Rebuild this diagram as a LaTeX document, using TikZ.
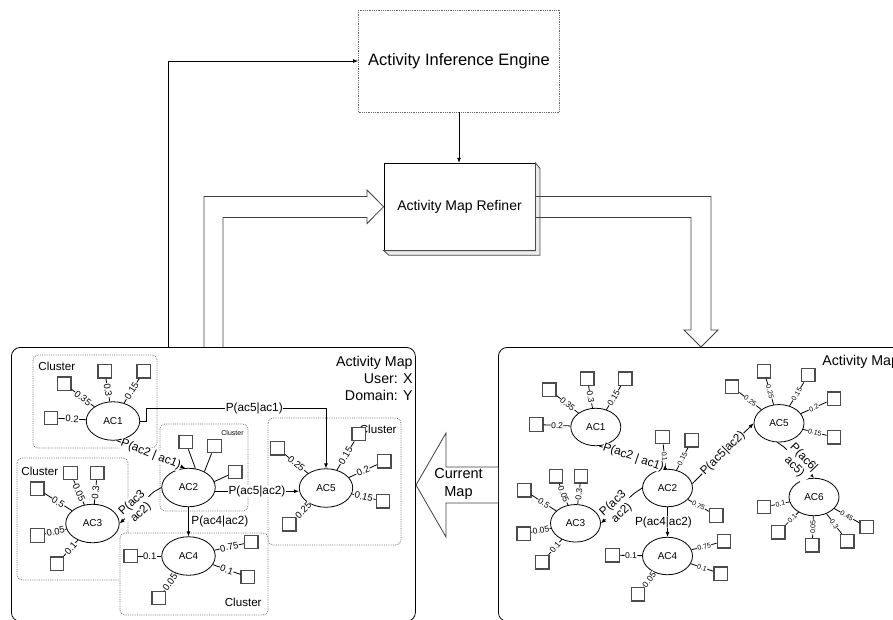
\documentclass[tikz,border=0pt]{standalone}
\usepackage{fontspec}
\setmainfont{Liberation Sans}
\usetikzlibrary{arrows.meta,shapes.geometric}
\begin{document}
\begin{tikzpicture}[x=1pt, y=-1pt, line width=0.8pt, >={Latex[length=5pt,width=4pt]},
	act/.style={ellipse, draw, fill=white, minimum width=53.5pt, minimum height=38.5pt, inner sep=0pt, font=\fontsize{10}{12}\selectfont},
	actr/.style={act, minimum width=50pt, minimum height=37.5pt},
	leaf/.style={draw=black!70, line width=1.2pt, fill=white, minimum size=13.5pt, inner sep=0pt},
	wt/.style={sloped, fill=white, inner sep=0.5pt, font=\fontsize{9.5}{10}\selectfont},
	wm/.style={wt, font=\fontsize{8.5}{9}\selectfont},
	ws/.style={wt, font=\fontsize{7}{8}\selectfont},
	prob/.style={fill=white, inner sep=0.5pt, font=\fontsize{11.8}{13}\selectfont},
	clus/.style={draw=black!55, densely dotted, fill=white, rounded corners=5pt},
	clab/.style={inner sep=0pt, font=\fontsize{11.6}{13}\selectfont},
	panel/.style={draw, rounded corners=9pt, inner sep=0pt},
	fat/.style={draw=black!75, line join=miter}
	]
	\useasboundingbox (0,0) rectangle (893,619);
	% the two maps
	\node[panel, anchor=north west, minimum width=404pt, minimum height=274pt] (mapL) at (11,347) {};
	\node[panel, anchor=north west, minimum width=420pt, minimum height=274pt] (mapR) at (498,347) {};
	\node[anchor=north east, align=right, inner sep=0pt, font=\fontsize{14.2}{17}\selectfont] (hdrL) at (413,356) {Activity Map\\User: X\\Domain: Y};
	\node[anchor=west, inner sep=0pt, font=\fontsize{14.2}{17}\selectfont] (hdrR) at (822,362) {Activity Map};
	% engine and refiner
	\node[draw=black!60, densely dotted, minimum width=201pt, minimum height=102pt, font=\fontsize{16.5}{19}\selectfont] (engine) at (459,61) {Activity Inference Engine};
	\node[draw, fill=white, minimum width=151pt, minimum height=87pt, font=\fontsize{14}{17}\selectfont] (refiner) at (459.5,206.7) {Activity Map Refiner};
	\draw[black!70, fill=black!8] (refiner.north east) -- ++(4.5,5.5) -- ++(0,87) -- ++(-151,0) -- (refiner.south west) -- (refiner.south east) -- cycle;
	\coordinate (fb) at (168,347);
	\draw[->] (fb) |- (engine.west);
	\draw[->] (engine.south) -- (engine.south |- refiner.north);
	\draw[fat] (204,347) -- (204,196.5) -- (367,196.5) -- (367,190) -- (refiner.west) -- (367,223.5) -- (367,217.5) -- (223,217.5) -- (223,347);
	\draw[fat] (535,196.5) -- (711,196.5) -- (711,330) -- (718,330) -- (701,347) -- (684,330) -- (691,330) -- (691,217.5) -- (535,217.5);
	\draw[fat, fill=white] (498,467) -- (446,467) -- (446,433) -- (416,485) -- (446,537) -- (446,503) -- (498,503);
	\node[align=center, inner sep=0pt, font=\fontsize{14.5}{18}\selectfont] (cur) at (458.5,484) {Current\\Map};
	% clusters
	\draw[clus] (33,355) rectangle (157,448);
	\draw[clus] (160,424) rectangle (248,511);
	\draw[clus] (268,418) rectangle (401,545);
	\draw[clus] (17,458) rectangle (128,580);
	\draw[clus] (120,533) rectangle (268,615);
	\node[clab, anchor=west] (cl1) at (38,366) {Cluster};
	\node[clab, anchor=east, font=\fontsize{7}{8}\selectfont] (cl2) at (244,433) {Cluster};
	\node[clab, anchor=east] (cl5) at (397,429.5) {Cluster};
	\node[clab, anchor=west] (cl3) at (21,471) {Cluster};
	\node[clab, anchor=east] (cl4) at (262,602) {Cluster};
	% left map
	\node[act] (L1) at (113,421) {AC1};
	\node[act] (L2) at (188.5,487.5) {AC2};
	\node[act] (L3) at (92.5,523.5) {AC3};
	\node[act] (L4) at (188.5,556) {AC4};
	\node[act] (L5) at (326,488) {AC5};
	\foreach \x/\y/\w [count=\i] in {51/418/0.2, 64.2/383.7/0.35, 104.7/371.3/0.3, 143.7/371.3/0.15}
	{\node[leaf] (L1-\i) at (\x,\y) {}; \draw (L1-\i) -- node[wt]{\w} (L1);}
	\foreach \x/\y/\a [count=\i] in {185.7/442/70, 214.5/446/45, 235.3/472/13}
	{\node[leaf] (L2-\i) at (\x,\y) {}; \draw (L2-\i) -- (L2.\a);}
	\foreach \x/\y/\w [count=\i] in {37.2/488.8/0.5, 70.5/473/0.05, 97.2/473/0.3, 37.5/535.5/0.05, 57/563.8/0.1}
	{\node[leaf] (L3-\i) at (\x,\y) {}; \draw (L3-\i) -- node[wt]{\w} (L3);}
	\foreach \x/\y/\w [count=\i] in {130.8/556/0.1, 251.3/542/0.75, 247.8/577/0.1, 158.7/598/0.05}
	{\node[leaf] (L4-\i) at (\x,\y) {}; \draw (L4-\i) -- node[wt]{\w} (L4);}
	\foreach \x/\y/\w [count=\i] in {277.5/448.3/0.25, 358.7/434/0.15, 384.3/461.3/0.2, 383/501.2/0.15, 289.3/524.2/0.25}
	{\node[leaf] (L5-\i) at (\x,\y) {}; \draw (L5-\i) -- node[wt]{\w} (L5);}
	\draw[->] (L1.east) -| (146.7,408) -| node[prob, pos=0.3]{P(ac5|ac1)} (L5.north);
	\draw[->] (L1.-80) -- node[prob, sloped]{P(ac2 | ac1)} (L2.100);
	\draw[->] (L2.west) -- (153.5,492) -- node[prob, sloped, align=center]{P(ac3\\ac2)} (L3.east);
	\draw[->] (L2.south) -- node[prob, right, xshift=2pt, fill=none]{P(ac4|ac2)} (L4.north);
	\draw[->] (L2.-8) -- node[prob]{P(ac5|ac2)} (L5.west |- L2.-8);
	% right map
	\node[actr] (R1) at (595.8,427) {AC1};
	\node[actr] (R2) at (667.5,488) {AC2};
	\node[actr] (R3) at (575.5,523.3) {AC3};
	\node[actr] (R4) at (667.5,556) {AC4};
	\node[actr] (R5) at (779,423.3) {AC5};
	\node[actr] (R6) at (814,497) {AC6};
	\foreach \x/\y/\w [count=\i] in {536.3/424.5/0.2, 549.3/389.7/0.35, 587.3/378.7/0.3, 625.3/378.7/0.15}
	{\node[leaf] (R1-\i) at (\x,\y) {}; \draw (R1-\i) -- node[wm]{\w} (R1);}
	\foreach \x/\y/\w [count=\i] in {662.5/437/0.1, 691.7/440.3/0.15, 716.3/515.5/0.75}
	{\node[leaf] (R2-\i) at (\x,\y) {}; \draw (R2-\i) -- node[ws]{\w} (R2);}
	\foreach \x/\y/\w [count=\i] in {524.2/490.3/0.5, 556/476.2/0.05, 581/476.2/0.3, 523.7/533.8/0.05, 542.3/562.2/0.1}
	{\node[leaf] (R3-\i) at (\x,\y) {}; \draw (R3-\i) -- node[wm]{\w} (R3);}
	\foreach \x/\y/\w [count=\i] in {612.5/555.2/0.1, 638/594.2/0.05}
	{\node[leaf] (R4-\i) at (\x,\y) {}; \draw (R4-\i) -- node[wm]{\w} (R4);}
	\foreach \x/\y/\w [count=\i] in {724/541.3/0.75, 720.7/573.7/0.1}
	{\node[leaf] (R4s-\i) at (\x,\y) {}; \draw (R4s-\i) -- node[ws]{\w} (R4);}
	\foreach \x/\y/\w [count=\i] in {732/386.7/0.25, 764/371.3/0.25, 808.3/375/0.15, 834/398.8/0.2, 834/437.2/0.15}
	{\node[leaf] (R5-\i) at (\x,\y) {}; \draw (R5-\i) -- node[ws]{\w} (R5);}
	\foreach \x/\y/\w [count=\i] in {764/507/0.1, 778.3/532.2/0.1, 812.3/545.3/0.05, 847.3/541.3/0.3, 866.7/527/0.45}
	{\node[leaf] (R6-\i) at (\x,\y) {}; \draw (R6-\i) -- node[ws]{\w} (R6);}
	\draw[->] (R1.-80) -- node[prob, sloped]{P(ac2 | ac1)} (R2.north);
	\draw[->] (R2.west) -- (634,493.5) -- node[prob, sloped, align=center]{P(ac3\\ac2)} (R3.east);
	\draw[->] (R2.south) -- node[prob, xshift=-4pt]{P(ac4|ac2)} (R4.north);
	\draw[->] (R2.10) -- node[prob, sloped]{P(ac5|ac2)} (R5.west);
	\draw[->] (R5.-95) -- (784,447) -- node[prob, sloped, align=center]{P(ac6|\\ac5)} (R6.north);
\end{tikzpicture}
\end{document}
